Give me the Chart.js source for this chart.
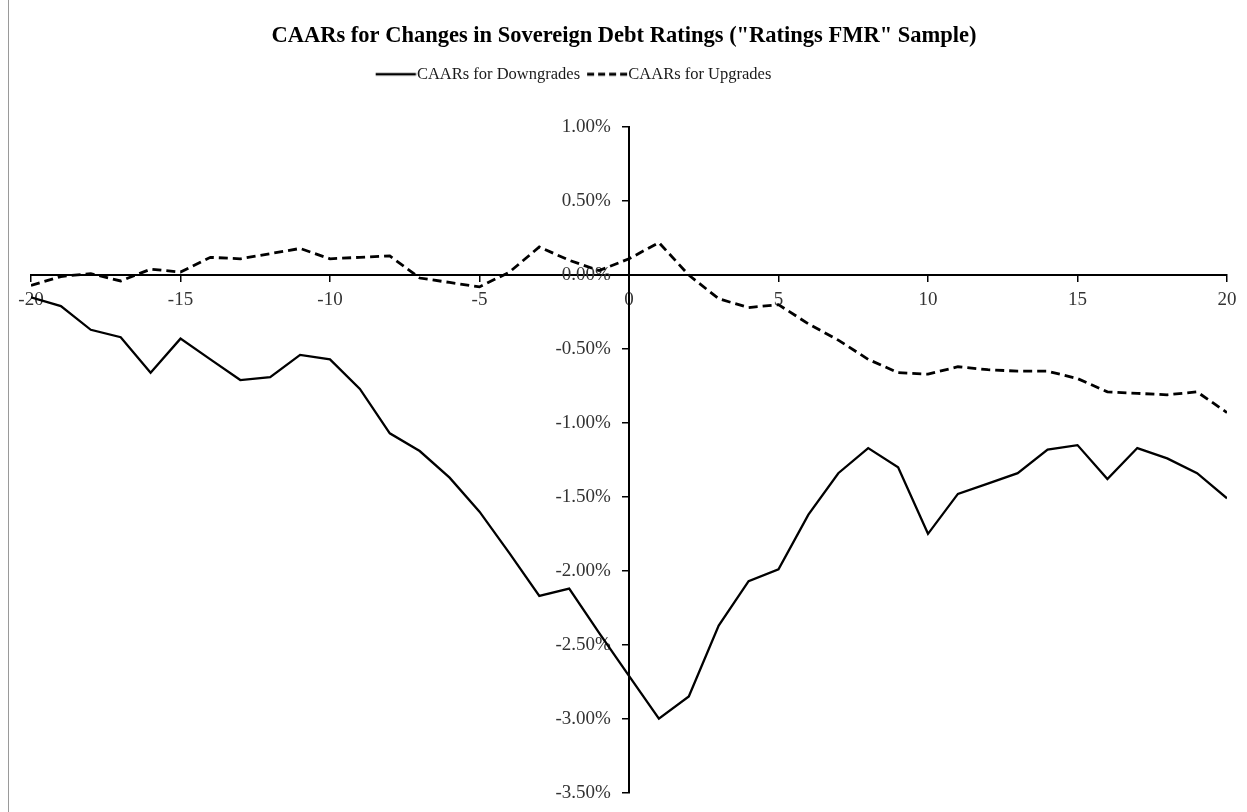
<!DOCTYPE html>
<html>
<head>
<meta charset="utf-8">
<script src="https://cdn.jsdelivr.net/npm/chart.js@4.4.1/dist/chart.umd.min.js"></script>
<style>
  html, body { margin: 0; padding: 0; background: #fff; }
  #wrap { position: relative; width: 1247px; height: 812px; }
  #frame { position: absolute; left: 8px; top: 0; width: 1px; height: 812px; background: #9a9a9a; }
  canvas { position: absolute; left: 0; top: 0; }
</style>
</head>
<body>
<div id="wrap">
  <canvas id="c" width="1247" height="812"></canvas>
  <div id="frame"></div>
</div>
<script>
const chartTitle = 'CAARs for Changes in Sovereign Debt Ratings ("Ratings FMR" Sample)';
const seriesNames = ['CAARs for Downgrades', 'CAARs for Upgrades'];
const eventDays = [-20,-19,-18,-17,-16,-15,-14,-13,-12,-11,-10,-9,-8,-7,-6,-5,-4,-3,-2,-1,0,1,2,3,4,5,6,7,8,9,10,11,12,13,14,15,16,17,18,19,20];
const downgrades = [-0.15,-0.21,-0.37,-0.42,-0.66,-0.43,-0.57,-0.71,-0.69,-0.54,-0.57,-0.77,
  -1.07,-1.19,-1.37,-1.60,-1.88,-2.17,-2.12,-2.42,-2.71,-3.00,
  -2.85,-2.37,-2.07,-1.99,-1.62,
  -1.34,-1.17,-1.30,-1.75,-1.48,-1.41,-1.34,-1.18,-1.15,-1.38,-1.17,-1.24,-1.34,-1.51];
const upgrades = [-0.07,-0.01,0.01,-0.04,0.04,0.02,0.12,0.11,0.145,0.18,0.11,0.12,0.13,
  -0.02,-0.05,-0.08,0.02,0.19,0.10,0.03,0.11,0.22,0.00,-0.16,-0.22,-0.20,-0.33,
  -0.44,-0.57,-0.66,-0.67,-0.62,-0.64,-0.65,-0.65,-0.70,-0.79,-0.80,-0.81,-0.79,-0.93];
const xTickValues = [-20,-15,-10,-5,0,5,10,15,20];
const yTickValues = [1.0,0.5,0.0,-0.5,-1.0,-1.5,-2.0,-2.5,-3.0,-3.5];

const serif = "'Liberation Serif', 'Times New Roman', serif";
const toPoints = (vals) => eventDays.map((d, i) => ({x: d, y: vals[i]}));

const legendFont = 16.5;
const legendBox = 32;
function makeSample(dash, lw) {
  const h = legendFont / 2;
  const right = legendBox / 2 + h - 1;
  const left = legendBox / 2 + 1;
  const half = Math.ceil(Math.max(left, right));
  const c = document.createElement('canvas');
  c.width = half * 2; c.height = 6;
  const g = c.getContext('2d');
  g.strokeStyle = '#000'; g.lineWidth = lw; g.setLineDash(dash);
  g.beginPath(); g.moveTo(half - left, 3); g.lineTo(half + right, 3); g.stroke();
  return c;
}
const samples = [makeSample([], 2.4), makeSample([7, 4], 2.8)];

const shiftPlugin = {
  id: 'shiftBoxes',
  afterLayout(chart) {
    if (chart.titleBlock) { chart.titleBlock.left -= 5; chart.titleBlock.right -= 5; }
    if (chart.legend) { chart.legend.left -= 55; chart.legend.right -= 55; }
  }
};

new Chart(document.getElementById('c'), {
  type: 'line',
  data: {
    datasets: [
      { label: seriesNames[0], data: toPoints(downgrades), borderColor: '#000', backgroundColor: '#000',
        borderWidth: 2.3, pointRadius: 0, tension: 0, fill: false },
      { label: seriesNames[1], data: toPoints(upgrades), borderColor: '#000', backgroundColor: '#000',
        borderWidth: 2.8, borderDash: [9, 5], pointRadius: 0, tension: 0, fill: false }
    ]
  },
  plugins: [shiftPlugin],
  options: {
    responsive: false,
    animation: false,
    devicePixelRatio: 1,
    layout: { padding: { left: 31, right: 20, bottom: 17.5, top: 0 } },
    plugins: {
      title: { display: true, text: chartTitle, color: '#000',
        font: { family: serif, size: 22.5, weight: 'bold', lineHeight: 1.2 },
        padding: { top: 23, bottom: 8 } },
      subtitle: { display: true, text: '', weight: 500, font: { size: 10, lineHeight: 1 },
        padding: { top: 24.7, bottom: 0 } },
      legend: { display: true, position: 'top',
        labels: { usePointStyle: true, pointStyleWidth: legendBox,
          color: '#1a1a1a', padding: 8, font: { family: serif, size: legendFont },
          generateLabels: (chart) => {
            const items = Chart.defaults.plugins.legend.labels.generateLabels(chart);
            items.forEach((it, i) => { it.pointStyle = samples[i]; });
            return items;
          } } },
      tooltip: { enabled: false }
    },
    scales: {
      x: {
        type: 'linear', min: -20, max: 20, position: { y: 0 },
        afterBuildTicks: (s) => { s.ticks = xTickValues.map(v => ({ value: v })); },
        ticks: { color: '#333', padding: 8, font: { family: serif, size: 19 },
          maxRotation: 0, autoSkip: false, callback: (v) => String(v) },
        grid: { drawOnChartArea: false, drawTicks: true, tickLength: 6, color: '#000', lineWidth: 1.5 },
        border: { display: true, color: '#000', width: 2 }
      },
      y: {
        type: 'linear', min: -3.5, max: 1.0, position: { x: 0 },
        afterBuildTicks: (s) => { s.ticks = yTickValues.map(v => ({ value: v })); },
        ticks: { color: '#333', padding: 8, font: { family: serif, size: 19 },
          autoSkip: false, callback: (v) => v.toFixed(2) + '%\u2002 \u2009' },
        grid: { drawOnChartArea: false, drawTicks: true, tickLength: 6, color: '#000', lineWidth: 1.5 },
        border: { display: true, color: '#000', width: 2 }
      }
    }
  }
});
</script>
</body>
</html>
